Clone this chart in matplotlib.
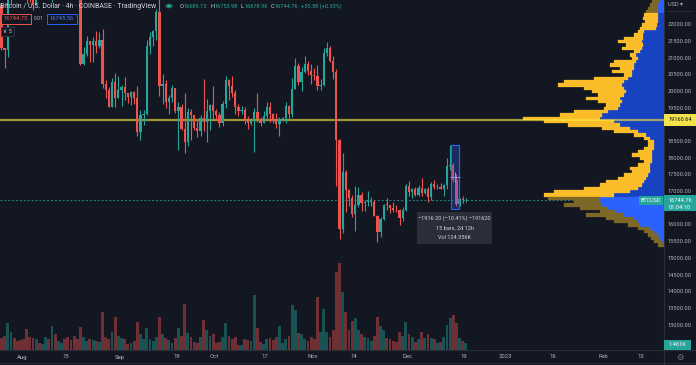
import numpy as np
import matplotlib
matplotlib.use('Agg')
import matplotlib.pyplot as plt
import matplotlib.transforms as mtransforms
from matplotlib.patches import Rectangle, Circle
from matplotlib.lines import Line2D
import datetime as dt

plt.rcParams['font.family'] = ['Roboto', 'DejaVu Sans']

BG = '#131722'; SEP = '#2a2e39'; TXT = '#b2b5be'; HEAD = '#d1d4dc'
UP = '#26a69a'; DN = '#ef5350'
VA_YEL = '#fbbc2a'; VA_BLU = '#1743c2'; OUT_YEL = '#7d6828'; OUT_BLU = '#2962ff'

# ---------------- data (daily OHLC) ----------------
start_date = dt.date(2022, 7, 25)
opens = [22580, 21310, 21250, 22950, 23850, 23780, 23640,
         23300, 23270, 22980, 22820, 22610, 23310, 22960,
         23170, 23810, 23160, 23950, 23940, 24400, 24440,
         24300, 24100, 23850, 23340, 23190, 20830, 21140,
         21520, 21400, 21530, 21370, 21560, 20240, 20040,
         19550, 20290, 19800, 20050, 20130, 19950, 19830,
         19990, 19800, 18790, 19290, 19320, 21360, 21650,
         21830, 22400, 20180, 20230, 19700, 19800, 20110,
         19420, 19540, 18870, 18480, 19400, 19290, 18920,
         18810, 19220, 19080, 19410, 19590, 19420, 19310,
         19050, 19630, 20340, 20160, 19960, 19530, 19420,
         19440, 19130, 19060, 19160, 19380, 19180, 19070,
         19270, 19550, 19330, 19130, 19040, 19170, 19210,
         19570, 19330, 20090, 20770, 20290, 20600, 20820,
         20630, 20490, 20480, 20160, 20210, 21150, 21300,
         20920, 20590, 18540, 15880, 17590, 17060, 16800,
         16330, 16610, 16890, 16660, 16690, 16700, 16700,
         16280, 15780, 16190, 16610, 16600, 16520, 16460,
         16440, 16210, 16440, 17170, 16980, 17090, 16890,
         17110, 16970, 17090, 16840, 17220, 17130, 17130,
         17090, 17210, 17780, 17810, 17360, 16630, 16780,
         16740]
highs = [22660, 21320, 23100, 24200, 24440, 24650, 24190,
         23490, 23450, 23640, 23220, 23450, 23340, 23380,
         24240, 23920, 24200, 24900, 24450, 24880, 25210,
         25000, 24250, 24450, 23600, 23210, 21350, 21680,
         21520, 21650, 21820, 21800, 21880, 20340, 20140,
         20400, 20560, 20480, 20200, 20440, 19960, 20010,
         20030, 20180, 19460, 19450, 21560, 21800, 21850,
         22480, 22800, 20540, 20340, 19890, 20200, 20110,
         19690, 19640, 19950, 19500, 19490, 19310, 19180,
         19310, 20380, 19780, 19640, 20170, 19480, 19390,
         19720, 20480, 20370, 20460, 20060, 19620, 19560,
         19530, 19260, 19220, 19520, 19950, 19230, 19420,
         19680, 19700, 19360, 19350, 19250, 19250, 19700,
         19600, 20420, 21000, 20870, 20750, 21080, 20930,
         20840, 20700, 20800, 20390, 21300, 21480, 21370,
         21070, 20680, 18590, 18150, 17660, 17070, 16890,
         17180, 17130, 17000, 16750, 17010, 16830, 16760,
         16300, 16250, 16620, 16810, 16600, 16700, 16600,
         16480, 16530, 17240, 17320, 17100, 17150, 17200,
         17420, 17110, 17140, 17300, 17360, 17230, 17270,
         17240, 18000, 18390, 17850, 17530, 16800, 16870,
         16820]
lows = [21250, 20710, 21040, 22590, 23420, 23500, 23220,
        22850, 22670, 22700, 22440, 22590, 22950, 22840,
        23150, 22880, 22680, 23860, 23600, 24300, 24200,
        23780, 23700, 23190, 23120, 20800, 20800, 21070,
        20900, 20890, 21150, 21320, 20120, 19800, 19540,
        19550, 19530, 19800, 19570, 19760, 19650, 19600,
        19640, 18680, 18540, 19010, 19300, 21120, 21380,
        21560, 19880, 19630, 19500, 19320, 19690, 19370,
        18240, 18850, 18150, 18370, 18540, 18850, 18630,
        18670, 18830, 18480, 18840, 19170, 19160, 18930,
        18960, 19500, 19740, 19850, 19330, 19260, 19330,
        19030, 18870, 18990, 18190, 19090, 18970, 19070,
        19160, 19100, 19070, 18900, 18660, 19120, 19070,
        19160, 19250, 20070, 20210, 20010, 20560, 20510,
        20240, 20340, 20060, 20050, 20180, 21080, 20900,
        20390, 17170, 15590, 15750, 16380, 16560, 16250,
        15820, 16540, 16410, 16420, 16560, 16570, 16260,
        15480, 15640, 16150, 16460, 16350, 16400, 16400,
        16000, 16110, 16430, 16860, 16800, 16870, 16880,
        16870, 16920, 16690, 16740, 17070, 17090, 17070,
        16870, 17080, 17660, 17280, 16580, 16580, 16670,
        16680]
closes = [21310, 21250, 22950, 23850, 23780, 23640, 23300,
          23270, 22980, 22820, 22610, 23310, 22960, 23170,
          23810, 23160, 23950, 23940, 24400, 24440, 24300,
          24100, 23850, 23340, 23190, 20830, 21140, 21520,
          21400, 21530, 21370, 21560, 20240, 20040, 19550,
          20290, 19800, 20050, 20130, 19950, 19830, 19990,
          19800, 18790, 19290, 19320, 21360, 21650, 21830,
          22400, 20180, 20230, 19700, 19800, 20110, 19420,
          19540, 18870, 18480, 19400, 19290, 18920, 18810,
          19220, 19080, 19410, 19590, 19420, 19310, 19050,
          19630, 20340, 20160, 19960, 19530, 19420, 19440,
          19130, 19060, 19160, 19380, 19180, 19070, 19270,
          19550, 19330, 19130, 19040, 19170, 19210, 19570,
          19330, 20090, 20770, 20290, 20600, 20820, 20630,
          20490, 20480, 20160, 20210, 21150, 21300, 20920,
          20590, 18540, 15880, 17590, 17060, 16800, 16330,
          16610, 16890, 16660, 16690, 16700, 16700, 16280,
          15780, 16190, 16610, 16600, 16520, 16460, 16440,
          16210, 16440, 17170, 16980, 17090, 16890, 17110,
          16970, 17090, 16840, 17220, 17130, 17130, 17090,
          17210, 17780, 17810, 17360, 16630, 16780, 16740,
          16745]
volumes_k = [12, 14, 27, 18, 12, 9, 10,
             11, 21, 13, 12, 11, 7, 6,
             13, 11, 24, 16, 9, 7, 11,
             13, 10, 14, 11, 23, 13, 9,
             11, 10, 9, 8, 38, 13, 11,
             18, 33, 14, 12, 11, 6, 7,
             9, 28, 16, 11, 22, 11, 9,
             13, 33, 16, 12, 10, 7, 12,
             22, 14, 46, 17, 13, 8, 7,
             13, 30, 20, 14, 16, 7, 8,
             13, 27, 14, 11, 13, 5, 5,
             11, 10, 9, 55, 22, 8, 6,
             11, 12, 10, 13, 24, 7, 11,
             14, 45, 40, 17, 16, 11, 9,
             13, 11, 53, 18, 41, 18, 13,
             20, 78, 87, 58, 38, 20, 29,
             32, 20, 16, 13, 12, 9, 14,
             33, 24, 20, 12, 11, 9, 8,
             18, 14, 28, 16, 13, 8, 11,
             18, 12, 16, 12, 11, 7, 8,
             13, 25, 32, 35, 27, 12, 9,
             7]

tick_dates = [dt.date(2022, 8, 1), dt.date(2022, 8, 15), dt.date(2022, 9, 1),
              dt.date(2022, 9, 19), dt.date(2022, 10, 1), dt.date(2022, 10, 17),
              dt.date(2022, 11, 1), dt.date(2022, 11, 14), dt.date(2022, 12, 1),
              dt.date(2022, 12, 19), dt.date(2023, 1, 1), dt.date(2023, 1, 16),
              dt.date(2023, 2, 1), dt.date(2023, 2, 13)]
tick_labels = ['Aug', '15', 'Sep', '19', 'Oct', '17', 'Nov', '14', 'Dec', '19',
               '2023', '16', 'Feb', '13']
# 12500 and 16500 are hidden behind the price labels in the reference
price_ticks = [13000, 13500, 14000, 14500, 15000, 15500, 16000,
               17000, 17500, 18000, 18500, 19000, 19500, 20000, 20500, 21000,
               21500, 22000]

# volume profile (visible range), 100 USD rows
vp_levels = [22700, 22600, 22500, 22400, 22300, 22200, 22100, 22000, 21900, 21800,
             21700, 21600, 21500, 21400, 21300, 21200, 21100, 21000, 20900, 20800,
             20700, 20600, 20500, 20400, 20300, 20200, 20100, 20000, 19900, 19800,
             19700, 19600, 19500, 19400, 19300, 19200, 19100, 19000, 18900, 18800,
             18700, 18600, 18500, 18400, 18300, 18200, 18100, 18000, 17900, 17800,
             17700, 17600, 17500, 17400, 17300, 17200, 17100, 17000, 16900, 16800,
             16700, 16600, 16500, 16400, 16300, 16200, 16100, 16000, 15900, 15800,
             15700, 15600, 15500, 15400]
vp_total = [12, 14, 16, 18, 20, 21, 19, 22, 24, 26,
            30, 40, 46, 38, 42, 30, 34, 32, 50, 54,
            44, 52, 40, 70, 100, 106, 80, 72, 66, 78,
            66, 58, 60, 90, 104, 141, 120, 96, 62, 50,
            30, 20, 16, 16, 20, 26, 32, 24, 20, 26,
            34, 32, 40, 46, 58, 64, 80, 110, 120, 116,
            90, 100, 84, 64, 78, 58, 50, 36, 26, 20,
            16, 13, 10, 6]
vp_up = [4, 6, 6, 6, 6, 6, 6, 7, 8, 20,
         21, 21, 22, 21, 22, 24, 28, 26, 28, 30,
         30, 32, 32, 36, 40, 42, 40, 38, 40, 44,
         42, 44, 46, 56, 62, 64, 50, 44, 34, 26,
         18, 14, 10, 10, 10, 12, 12, 12, 12, 14,
         14, 14, 16, 18, 20, 22, 26, 34, 50, 64,
         64, 62, 56, 48, 40, 30, 26, 24, 14, 10,
         6, 4, 2, 1]
va_low, va_high = 16850, 22350
poc_price = 19160.64
last_price = 16744.76
meas_start = dt.datetime(2022, 12, 14, 20)
meas_end = dt.datetime(2022, 12, 17, 8)
meas_high, meas_low = 18396.20, 16480.00

# ---------------- figure ----------------
W, H = 696, 365
fig = plt.figure(figsize=(W / 100, H / 100), dpi=100, facecolor=BG)
rect = [0, 1 - 350 / H, 664 / W, 350 / H]

def day_of(d):
    if isinstance(d, dt.datetime):
        return (d - dt.datetime.combine(start_date, dt.time())).total_seconds() / 86400
    return (d - start_date).days

XL = (0.04, 210.2)
YL = (12250, 22750)

axv = fig.add_axes(rect, zorder=0)
axvp = fig.add_axes(rect, zorder=1)
ax = fig.add_axes(rect, zorder=2)
for a in (axv, axvp, ax):
    a.set_axis_off()
    a.patch.set_visible(False)

n = len(opens)
xs = np.arange(n) + 0.5
o = np.array(opens, float); h = np.array(highs, float)
l = np.array(lows, float); c = np.array(closes, float)
isup = c >= o
cols = np.where(isup, UP, DN)

# volume
vol = np.array(volumes_k, float)
axv.bar(xs, vol, width=0.9, color=cols, alpha=0.42, lw=0)
axv.set_xlim(*XL)
axv.set_ylim(0, vol.max() * 350 / 87)

# volume profile
axvp.set_ylim(*YL)
axvp.set_xlim(max(vp_total) * 664 / 141, 0)
axvp.axhline(last_price, color=UP, lw=0.7, ls=(0, (2, 2)), alpha=0.8, zorder=0.5)
lv = np.array(vp_levels, float)
tot = np.array(vp_total, float); upv = np.array(vp_up, float)
inva = (lv >= va_low) & (lv <= va_high)
bcols = np.where(inva, VA_BLU, OUT_BLU)
ycols = np.where(inva, VA_YEL, OUT_YEL)
axvp.barh(lv, upv, height=100, left=0, color=bcols, edgecolor=bcols, lw=0.2, zorder=2)
axvp.barh(lv, tot - upv, height=100, left=upv, color=ycols, edgecolor=ycols, lw=0.2, zorder=2)

# candles
ax.set_xlim(*XL); ax.set_ylim(*YL)
ax.axhline(poc_price, color='#ffeb3b', alpha=0.6, lw=1.6, zorder=2)
ax.vlines(xs, l, h, colors=cols, lw=0.8, zorder=3)
ax.bar(xs, np.maximum(np.abs(c - o), 25), bottom=np.minimum(o, c), width=0.72,
       color=cols, lw=0, zorder=4)

# measurement tool
ms, me = day_of(meas_start), day_of(meas_end)
ax.add_patch(Rectangle((ms, meas_low), me - ms, meas_high - meas_low,
                       facecolor=(0.16, 0.38, 1.0, 0.28), edgecolor='#2962ff', lw=0.8, zorder=5))
ax.plot([(ms + me) / 2], [(meas_high + meas_low) / 2], marker='+', ms=7, mew=0.7,
        color='#7a9cff', zorder=6)

# ---------------- helpers in pixel coords ----------------
def fbox(x0, y0, x1, y1, face, edge=None, lw=0, z=5):
    fig.add_artist(Rectangle((x0 / W, 1 - y1 / H), (x1 - x0) / W, (y1 - y0) / H,
                             transform=fig.transFigure, facecolor=face,
                             edgecolor=edge if edge else face, lw=lw, zorder=z))

def ftext(x, y, s, **kw):
    kw.setdefault('va', 'center')
    kw.setdefault('zorder', 6)
    fig.text(x / W, 1 - y / H, s, **kw)

def price_px(p):
    return H - ax.transData.transform((0, p))[1]

# separators
fig.add_artist(Line2D([664 / W, 664 / W], [0, 1], transform=fig.transFigure, color=SEP, lw=0.8, zorder=4))
fig.add_artist(Line2D([0, 1], [1 - 350 / H, 1 - 350 / H], transform=fig.transFigure, color=SEP, lw=0.8, zorder=4))
fig.add_artist(Line2D([0, 1], [1 - 363 / H, 1 - 363 / H], transform=fig.transFigure, color=SEP, lw=0.6, zorder=4))

# price axis labels
btr = mtransforms.blended_transform_factory(fig.transFigure, ax.transData)
for p in price_ticks:
    fig.text(668 / W, p, f'{p:.2f}', transform=btr, fontsize=4.1, color=TXT, va='center', ha='left', zorder=3)
ftext(668, 5, 'USD ▾', fontsize=4.1, color=TXT, ha='left')
fig.add_artist(Line2D([668 / W, 692 / W], [1 - 10.5 / H] * 2, transform=fig.transFigure,
                      color='#50535e', lw=0.5, ls=(0, (1, 1)), zorder=4))

# time axis labels
ttr = mtransforms.blended_transform_factory(ax.transData, fig.transFigure)
for d, s in zip(tick_dates, tick_labels):
    fig.text(day_of(d), 1 - 357 / H, s, transform=ttr, fontsize=4.3, color=TXT, ha='center', va='center')
ftext(680, 357, '⚙', fontsize=6, color='#787b86', ha='center', family='DejaVu Sans')

# POC label
yp = price_px(poc_price)
fbox(664, yp - 6, 696, yp + 6, '#f3e24a')
ftext(680, yp, f'{poc_price:.2f}', fontsize=4.1, color='#131722', ha='center')

# last price label
yl = price_px(last_price)
fbox(664, yl - 5, 696, yl + 11, UP)
ftext(680, yl, f'{last_price:.2f}', fontsize=4.1, color='white', ha='center')
ftext(680, yl + 7, '01:04:10', fontsize=4.1, color='white', ha='center')
fbox(639, yl - 4.5, 663, yl + 4.5, UP)
ftext(651, yl, 'BTCUSD', fontsize=3.9, color='white', ha='center')

# volume label
fbox(664, 340, 691, 350, UP)
ftext(677.5, 345, '1.461K', fontsize=4.1, color='white', ha='center')

# measurement info box
fbox(417, 212, 492, 244, '#2a2e39')
ftext(454.5, 218.5, '\u22121916.20 (\u221210.41%) \u2212191620', fontsize=4.0, color=HEAD, ha='center')
ftext(454.5, 228, '15 bars, 2d 12h', fontsize=4.0, color=HEAD, ha='center')
ftext(454.5, 237.5, 'Vol 124.356K', fontsize=4.0, color=HEAD, ha='center')

# header
ftext(0, 6, 'Bitcoin / U.S. Dollar \u00b7 4h \u00b7 COINBASE \u00b7 TradingView', fontsize=5.0, color=HEAD, ha='left')
fig.add_artist(Circle((169 / W, 1 - 6 / H), 3.5 / W, transform=fig.transFigure, color='#1b3f3d', zorder=5))
fig.add_artist(Circle((169 / W, 1 - 6 / H), 1.8 / W, transform=fig.transFigure, color=UP, zorder=6))
ohlc = [(180, 'O', '16689.15'), (210.5, 'H', '16753.98'), (240.5, 'L', '16678.96'), (270.5, 'C', '16744.76')]
for x0, k, v in ohlc:
    ftext(x0, 6, k, fontsize=4.1, color=HEAD, ha='left')
    ftext(x0 + 3.6, 6, v, fontsize=4.1, color=UP, ha='left')
ftext(301, 6, '+55.58 (+0.33%)', fontsize=4.1, color=UP, ha='left')

fbox(1, 14, 31, 24, BG, edge=DN, lw=0.7)
ftext(16, 19, '16744.75', fontsize=4.2, color=DN, ha='center')
ftext(38.5, 19, '0.01', fontsize=3.8, color=TXT, ha='center')
fbox(47, 14, 77, 24, BG, edge='#2962ff', lw=0.7)
ftext(62, 19, '16745.56', fontsize=4.2, color='#4c7dff', ha='center')
fbox(1, 27, 14, 36, BG, edge='#363a45', lw=0.6)
ftext(7.5, 31.5, '\u2228 5', fontsize=4.0, color=HEAD, ha='center', family=['DejaVu Sans'])

fig.savefig('out.png', dpi=100, facecolor=BG)
